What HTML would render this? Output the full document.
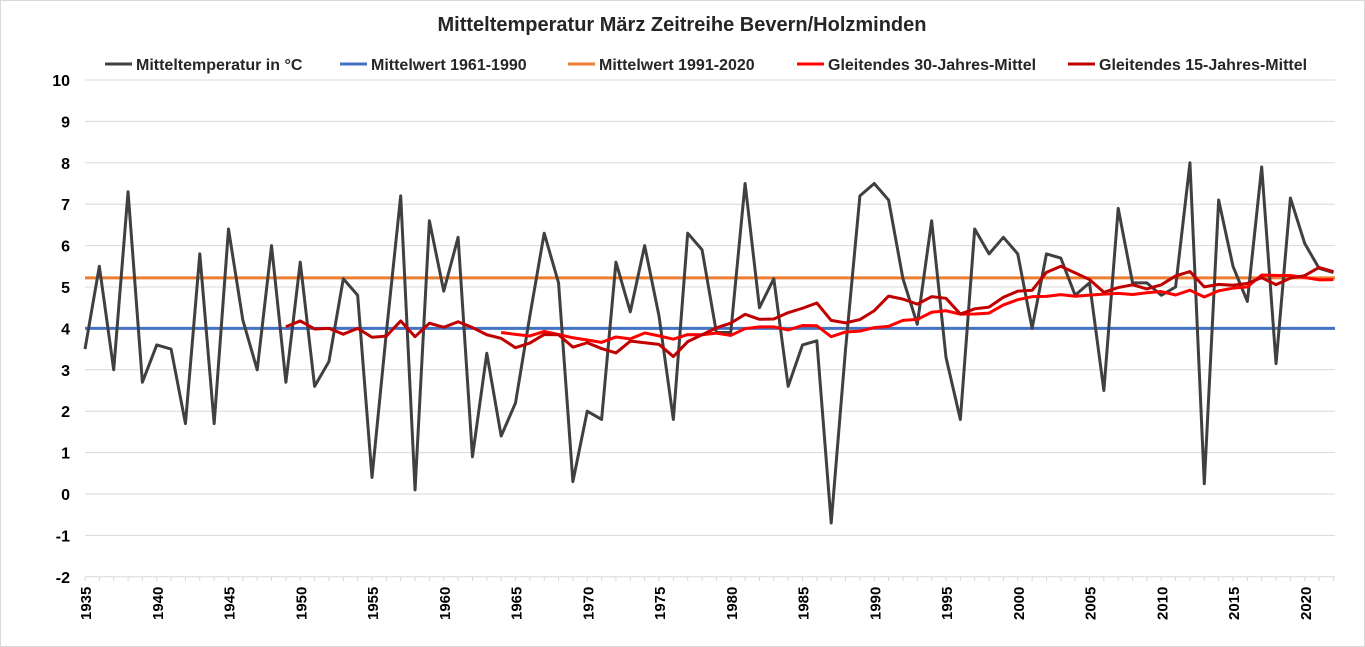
<!DOCTYPE html>
<html><head><meta charset="utf-8"><style>
body{margin:0;background:#fff;}
svg{display:block;font-family:"Liberation Sans",sans-serif;}
</style></head><body>
<svg id="c" width="1365" height="647" viewBox="0 0 1365 647"></svg>
<script>
const d=[3.5,5.5,3.0,7.3,2.7,3.6,3.5,1.7,5.8,1.7,6.4,4.2,3.0,6.0,2.7,5.6,2.6,3.2,5.2,4.8,0.4,3.9,7.2,0.1,6.6,4.9,6.2,0.9,3.4,1.4,2.2,4.3,6.3,5.1,0.3,2.0,1.8,5.6,4.4,6.0,4.3,1.8,6.3,5.9,3.9,3.9,7.5,4.5,5.2,2.6,3.6,3.7,-0.7,3.5,7.2,7.5,7.1,5.2,4.1,6.6,3.3,1.8,6.4,5.8,6.2,5.8,4.0,5.8,5.7,4.8,5.1,2.5,6.9,5.1,5.1,4.8,5.0,8.0,0.25,7.1,5.5,4.65,7.9,3.15,7.15,6.05,5.45,5.35];
const X=y=>85+(y-1935)*14.35, Y=v=>80+(10-v)*41.4;
let s='';
s+='<rect x="0.5" y="0.5" width="1364" height="646" fill="#fff" stroke="#d9d9d9"/>';
s+='<text x="682" y="31" text-anchor="middle" font-size="20" font-weight="bold" fill="#262626">Mitteltemperatur März Zeitreihe Bevern/Holzminden</text>';
for(let v=-2;v<=10;v++){const y=Y(v);s+=`<line x1="85" x2="1335" y1="${y}" y2="${y}" stroke="#d9d9d9"/>`;s+=`<text x="70" y="${y+6}" text-anchor="end" font-size="16" font-weight="bold" fill="#000">${v}</text>`;}
for(let yr=1935;yr<=2020;yr+=5){const x=X(yr);s+=`<text transform="translate(${x+6},${620}) rotate(-90)" font-size="15" font-weight="bold" fill="#000">${yr}</text>`;}
for(let yr=1935;yr<=2022;yr++){const x=X(yr);s+=`<line x1="${x}" x2="${x}" y1="577" y2="581" stroke="#d9d9d9"/>`;}
const line=(pts,c,w)=>`<polyline points="${pts.join(' ')}" fill="none" stroke="${c}" stroke-width="${w}" stroke-linejoin="round"/>`;
s+=`<line x1="85" x2="1335" y1="${Y(4.0)}" y2="${Y(4.0)}" stroke="#4472c4" stroke-width="3"/>`;
s+=`<line x1="85" x2="1335" y1="${Y(5.22)}" y2="${Y(5.22)}" stroke="#ed7d31" stroke-width="3"/>`;
s+=line(d.map((v,i)=>X(1935+i)+','+Y(v)),'#404040',3);
function ma(n){const p=[];for(let i=n-1;i<d.length;i++){let t=0;for(let k=i-n+1;k<=i;k++)t+=d[k];p.push(X(1935+i)+','+Y(t/n));}return p;}
s+=line(ma(30),'#ff0000',3);
s+=line(ma(15),'#c00000',3);
const L=[[105,'#404040','Mitteltemperatur in °C'],[340,'#4472c4','Mittelwert 1961-1990'],[568,'#ed7d31','Mittelwert 1991-2020'],[797,'#ff0000','Gleitendes 30-Jahres-Mittel'],[1068,'#c00000','Gleitendes 15-Jahres-Mittel']];
for(const [x,c,t] of L){s+=`<line x1="${x}" x2="${x+27}" y1="64" y2="64" stroke="${c}" stroke-width="3"/><text x="${x+31}" y="70" font-size="16" font-weight="bold" fill="#262626">${t}</text>`;}
document.getElementById('c').innerHTML=s;
</script>
</body></html>
